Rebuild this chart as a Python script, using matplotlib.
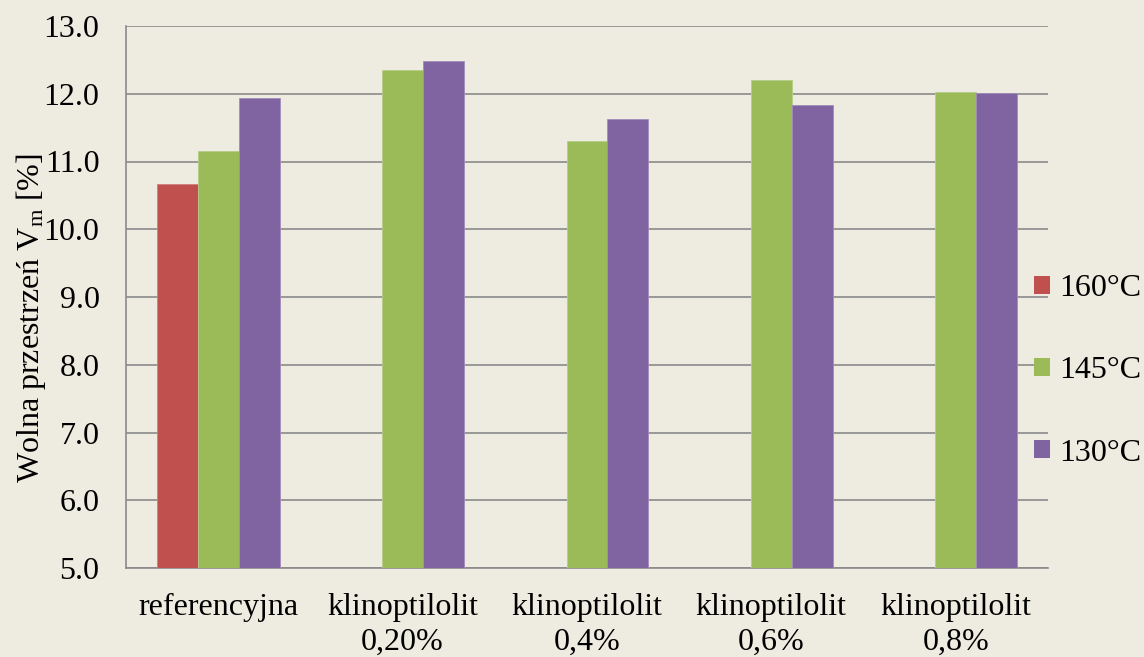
import numpy as np
import matplotlib
matplotlib.use("Agg")
import matplotlib.pyplot as plt
from matplotlib.patches import Patch

# Data
categories = ["referencyjna", "klinoptilolit\n0,20%", "klinoptilolit\n0,4%",
              "klinoptilolit\n0,6%", "klinoptilolit\n0,8%"]
series_names = ["160°C", "145°C", "130°C"]
vals_160 = [10.67, np.nan, np.nan, np.nan, np.nan]
vals_145 = [11.15, 12.35, 11.30, 12.20, 12.03]
vals_130 = [11.93, 12.49, 11.63, 11.83, 12.01]
yticks = [5.0, 6.0, 7.0, 8.0, 9.0, 10.0, 11.0, 12.0, 13.0]

colors = ["#C0504D", "#9BBB59", "#8064A2"]
edges = ["#D0807E", "#B5CC8A", "#A18DBB"]
bg = "#EEECE1"
grid_c = "#8A8A8A"

plt.rcParams["font.family"] = ["Liberation Serif", "DejaVu Serif"]
plt.rcParams["mathtext.fontset"] = "custom"
plt.rcParams["mathtext.rm"] = "Liberation Serif"
plt.rcParams["mathtext.it"] = "Liberation Serif:italic"

FS = 23

fig = plt.figure(figsize=(11.44, 6.57), dpi=100, facecolor=bg)
ax = fig.add_axes([126 / 1144, 1 - 568 / 657, (1048 - 126) / 1144, (568 - 26) / 657])
ax.set_facecolor(bg)

x = np.arange(len(categories))
w = 0.222
for i, (vals, c, ec) in enumerate(zip([vals_160, vals_145, vals_130], colors, edges)):
    ax.bar(x + (i - 1) * w, vals, width=w, color=c, edgecolor=ec, linewidth=0.6,
           zorder=3, label=series_names[i])

ax.set_xlim(-0.5, len(categories) - 0.5)
ax.set_ylim(5.0, 13.0)
ax.set_yticks(yticks)
ax.set_yticklabels([f"{v:.1f}" for v in yticks], fontsize=FS)
ax.set_xticks(x)
ax.set_xticklabels(categories, fontsize=FS, linespacing=1.25)
ax.tick_params(axis="y", length=0, pad=19)
ax.tick_params(axis="x", length=0, pad=18)

ax.yaxis.grid(True, color=grid_c, linewidth=1.2, zorder=0)
ax.set_axisbelow(True)
for s in ["top", "right"]:
    ax.spines[s].set_visible(False)
for s in ["left", "bottom"]:
    ax.spines[s].set_color(grid_c)
    ax.spines[s].set_linewidth(1.2)

fig.text(31 / 1144, 1 - 318 / 657, "Wolna przestrzeń V$_\\mathrm{m}$ [%]",
         rotation=90, ha="center", va="center", fontsize=FS)

handles = [Patch(facecolor=c, edgecolor="none") for c in colors]
fig.legend(handles, series_names, loc="center left",
           bbox_to_anchor=(1034 / 1144, 1 - 371 / 657), frameon=False,
           fontsize=FS, handlelength=0.5, handleheight=0.5,
           handletextpad=0.3, labelspacing=1.66, borderpad=0, borderaxespad=0)

fig.savefig("out.png", dpi=100, facecolor=bg)
